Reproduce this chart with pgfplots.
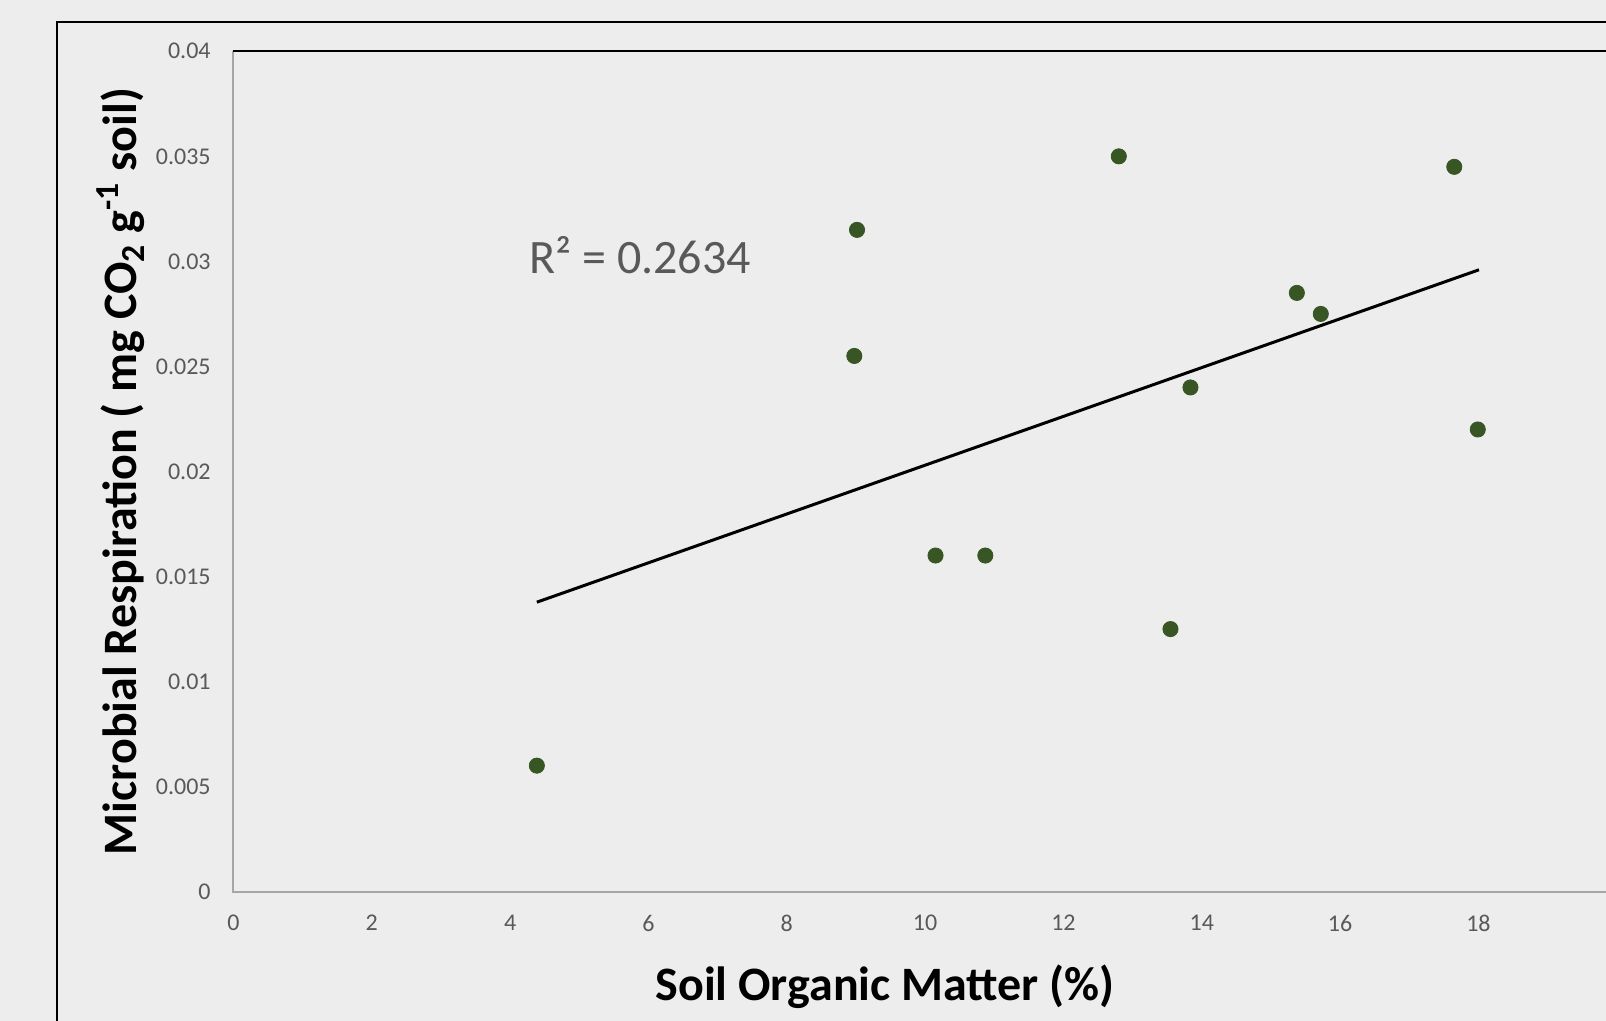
\documentclass[border=0pt]{standalone}
\usepackage{fontspec}
\setmainfont{Carlito}
\usepackage{pgfplots}
\pgfplotsset{compat=1.18}
\definecolor{bg}{HTML}{EDEDED}
\definecolor{dotgreen}{HTML}{375623}
\definecolor{ticktext}{HTML}{595959}
\definecolor{axisgray}{HTML}{A6A6A6}
\begin{document}
\begin{tikzpicture}[x=0.5pt,y=0.5pt]
\fill[bg] (-233.5,-129.3) rectangle (1372.5,891.7);
\draw[black,line width=1pt] (-176.5,-300) -- (-176.5,869.4) -- (1500,869.4);
\begin{axis}[
  at={(0,0)}, anchor=south west,
  scale only axis, width=691.65pt, height=420.2pt,
  xmin=0, xmax=20, ymin=0, ymax=0.04,
  clip=false,
  scaled y ticks=false, scaled x ticks=false,
  axis line style={draw=none},
  major tick length=0pt,
  xtick={0,2,4,6,8,10,12,14,16,18},
  xticklabels={0,2,4,6,8,10,12,14,16,18},
  ytick={0,0.005,0.01,0.015,0.02,0.025,0.03,0.035,0.04},
  yticklabels={0,0.005,0.01,0.015,0.02,0.025,0.03,0.035,0.04},
  xticklabel style={font=\fontsize{12}{14}\selectfont, text=ticktext, anchor=north, inner sep=0pt, yshift=-11.5pt},
  yticklabel style={font=\fontsize{12}{14}\selectfont, text=ticktext, anchor=east, inner sep=0pt, xshift=-11.25pt},
  xlabel={Soil Organic Matter (\%)},
  xlabel style={font=\fontsize{24}{28}\selectfont\bfseries, at={(axis description cs:0.471,-0.1290)}, anchor=base, inner sep=0pt},
  ylabel={Microbial Respiration ( mg CO\textsubscript{2} g\textsuperscript{-1} soil)},
  ylabel style={font=\fontsize{24}{28}\selectfont\bfseries, at={(axis description cs:-0.07,0.5)}, anchor=base, rotate=0, inner sep=0pt},
]
\draw[axisgray,line width=1pt] (rel axis cs:0,1) -- (rel axis cs:0,0) -- (rel axis cs:1,0);
\draw[black,line width=1pt] (rel axis cs:0,1) -- (rel axis cs:1,1) -- (rel axis cs:1,0);
\addplot[only marks, mark=*, mark size=3.8pt, mark options={fill=dotgreen, draw=dotgreen}] coordinates {
  (4.386,0.0060)
  (9.015,0.0315)
  (8.976,0.0255)
  (10.15,0.0160)
  (10.87,0.0160)
  (12.80,0.0350)
  (13.547,0.0125)
  (13.836,0.0240)
  (15.374,0.0285)
  (15.72,0.0275)
  (17.65,0.0345)
  (17.99,0.0220)
};
\addplot[black, line width=1.5pt, no marks] coordinates {
  (4.386,0.01378)
  (18.007,0.0296)
};
\node[anchor=base west, inner sep=0pt, text=ticktext, font=\fontsize{24}{28}\selectfont] at (axis cs:4.27,0.02941) {R² = 0.2634};
\end{axis}
\pgfresetboundingbox
\path[use as bounding box] (-233.5,-129.3) rectangle (1372.5,891.7);
\end{tikzpicture}
\end{document}
